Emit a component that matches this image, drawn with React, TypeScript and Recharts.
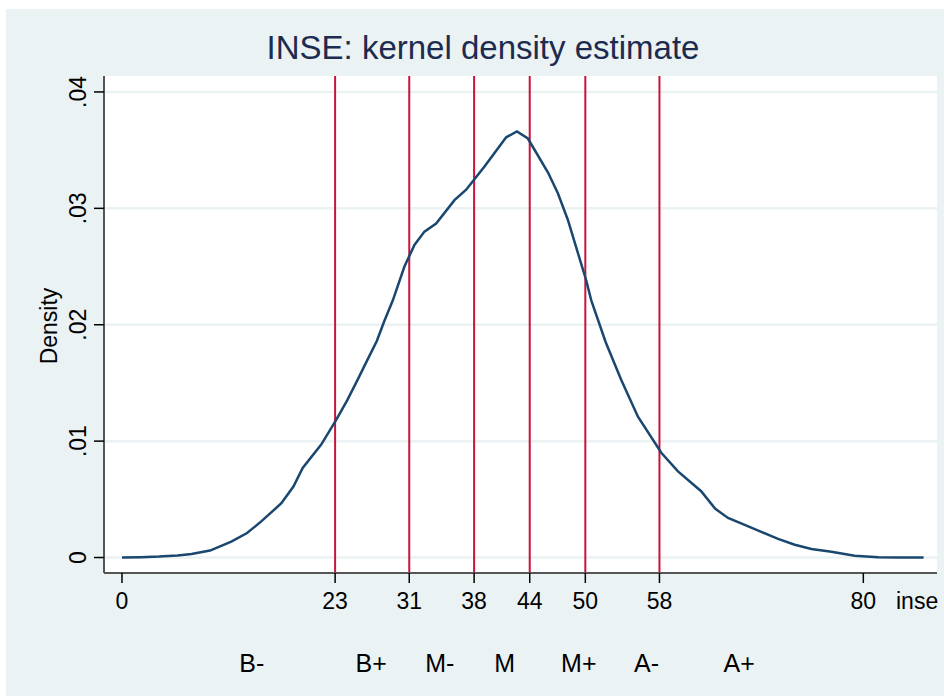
import React from 'react';
import { LineChart, Line, XAxis, YAxis, CartesianGrid, ReferenceLine } from 'recharts';

// Kernel density estimate of INSE (x = inse score, y = density)
const INSE_X = [0, 2, 4, 6, 7.5, 9.5, 11.8, 13.5, 15, 17.2, 18.5, 19.5, 21.5, 23.1, 24.3, 25.45, 26.5, 27.5, 28.3, 29.23, 30.48, 31.56, 32.64, 33.9, 35.88, 37.14, 39.12, 41.46, 42.62, 43.8, 45.96, 47.04, 48.12, 50.1, 50.64, 52.2, 53.88, 55.68, 58.2, 60.0, 62.5, 64.0, 65.4, 67.2, 68.99, 70.8, 72.6, 74.4, 76.55, 79.07, 81.6, 84, 86.5];
const DENSITY = [0, 0.00003, 0.00008, 0.00018, 0.0003, 0.0006, 0.00136, 0.0021, 0.00308, 0.00466, 0.0061, 0.0077, 0.0097, 0.0118, 0.0135, 0.0153, 0.017, 0.0186, 0.0203, 0.0221, 0.025, 0.02685, 0.028, 0.0287, 0.0307, 0.0316, 0.0336, 0.0361, 0.0366, 0.036, 0.0331, 0.0313, 0.029, 0.0238, 0.0221, 0.0185, 0.01525, 0.0121, 0.009, 0.0074, 0.0057, 0.0042, 0.0034, 0.0028, 0.0022, 0.0016, 0.0011, 0.00073, 0.0005, 0.00015, 0.00002, 0, 0];

const X_TICKS = [0, 23, 31, 38, 44, 50, 58, 80];
const CUT_POINTS = [23, 31, 38, 44, 50, 58];
const Y_TICKS = [0, 0.01, 0.02, 0.03, 0.04];
const Y_TICK_LABELS = ['0', '.01', '.02', '.03', '.04'];
const GRADE_POS = [14.0, 26.9, 34.3, 41.3, 49.3, 56.6, 66.6];
const GRADE_LABELS = ['B-', 'B+', 'M-', 'M', 'M+', 'A-', 'A+'];

const data = INSE_X.map((x, i) => ({ x, d: DENSITY[i] }));

const FONT = '"Liberation Sans", Arial, Helvetica, sans-serif';
const BG = '#EAF2F3';
const NAVY = '#1A476F';
const RED = '#C8133B';

const XTick = (props: any) => {
  const { x, y, payload } = props;
  return (
    <text x={x} y={y + 25.5} textAnchor="middle" fontFamily={FONT} fontSize={23} fill="#000">
      {String(payload.value)}
    </text>
  );
};

const GradeTick = (props: any) => {
  const { x, y, payload, index } = props;
  const i = GRADE_POS.indexOf(payload.value);
  return (
    <text x={x} y={y + 49} textAnchor="middle" fontFamily={FONT} fontSize={25} fill="#000">
      {GRADE_LABELS[i >= 0 ? i : index]}
    </text>
  );
};

const YTick = (props: any) => {
  const { x, y, payload } = props;
  const i = Y_TICKS.indexOf(payload.value);
  return (
    <text
      x={0}
      y={0}
      transform={`translate(${x - 8}, ${y}) rotate(-90)`}
      textAnchor="middle"
      fontFamily={FONT}
      fontSize={23}
      fill="#000"
    >
      {i >= 0 ? Y_TICK_LABELS[i] : String(payload.value)}
    </text>
  );
};

export default function App() {
  return (
    <div style={{ position: 'absolute', left: 0, top: 0, width: 944, height: 696, background: '#fff', overflow: 'hidden' }}>
      <div style={{ position: 'absolute', left: 6, top: 9, right: 0, bottom: 0, background: BG }} />
      <div style={{ position: 'absolute', left: 0, top: 0 }}>
        <LineChart width={944} height={696} data={data} margin={{ top: 76, right: 7, left: 0, bottom: 0 }}>
          <CartesianGrid
            horizontal
            vertical={false}
            fill="#ffffff"
            stroke={BG}
            strokeWidth={2.5}
            horizontalValues={Y_TICKS}
          />
          <XAxis
            dataKey="x"
            type="number"
            domain={[-1.94, 87.95]}
            allowDataOverflow
            ticks={X_TICKS}
            interval={0}
            height={50}
            tickSize={10}
            tickMargin={0}
            tick={<XTick />}
            axisLine={{ stroke: '#555', strokeWidth: 2 }}
            tickLine={{ stroke: '#000', strokeWidth: 1.5 }}
          />
          <XAxis
            xAxisId="grade"
            dataKey="x"
            type="number"
            domain={[-1.94, 87.95]}
            allowDataOverflow
            ticks={GRADE_POS}
            interval={0}
            height={73}
            tickSize={0}
            tickMargin={0}
            tick={<GradeTick />}
            axisLine={false}
            tickLine={false}
          />
          <YAxis
            type="number"
            domain={[-0.00133, 0.04137]}
            allowDataOverflow
            ticks={Y_TICKS}
            interval={0}
            width={104}
            tickSize={10}
            tickMargin={0}
            tick={<YTick />}
            axisLine={{ stroke: '#555', strokeWidth: 2 }}
            tickLine={{ stroke: '#000', strokeWidth: 1.5 }}
          />
          {CUT_POINTS.map((c) => (
            <ReferenceLine key={c} x={c} stroke={RED} strokeWidth={2} />
          ))}
          <Line
            type="linear"
            dataKey="d"
            stroke={NAVY}
            strokeWidth={2.5}
            dot={false}
            isAnimationActive={false}
          />
        </LineChart>
      </div>
      <svg width={944} height={696} style={{ position: 'absolute', left: 0, top: 0, pointerEvents: 'none' }}>
        <text x={483} y={58.5} textAnchor="middle" fontFamily={FONT} fontSize={33} fill="#1C2B4F">
          INSE: kernel density estimate
        </text>
        <text
          x={0}
          y={0}
          transform="translate(57, 326) rotate(-90)"
          textAnchor="middle"
          fontFamily={FONT}
          fontSize={23}
          fill="#000"
        >
          Density
        </text>
        <text x={896} y={608.5} textAnchor="start" fontFamily={FONT} fontSize={23} fill="#000">
          inse
        </text>
      </svg>
    </div>
  );
}
